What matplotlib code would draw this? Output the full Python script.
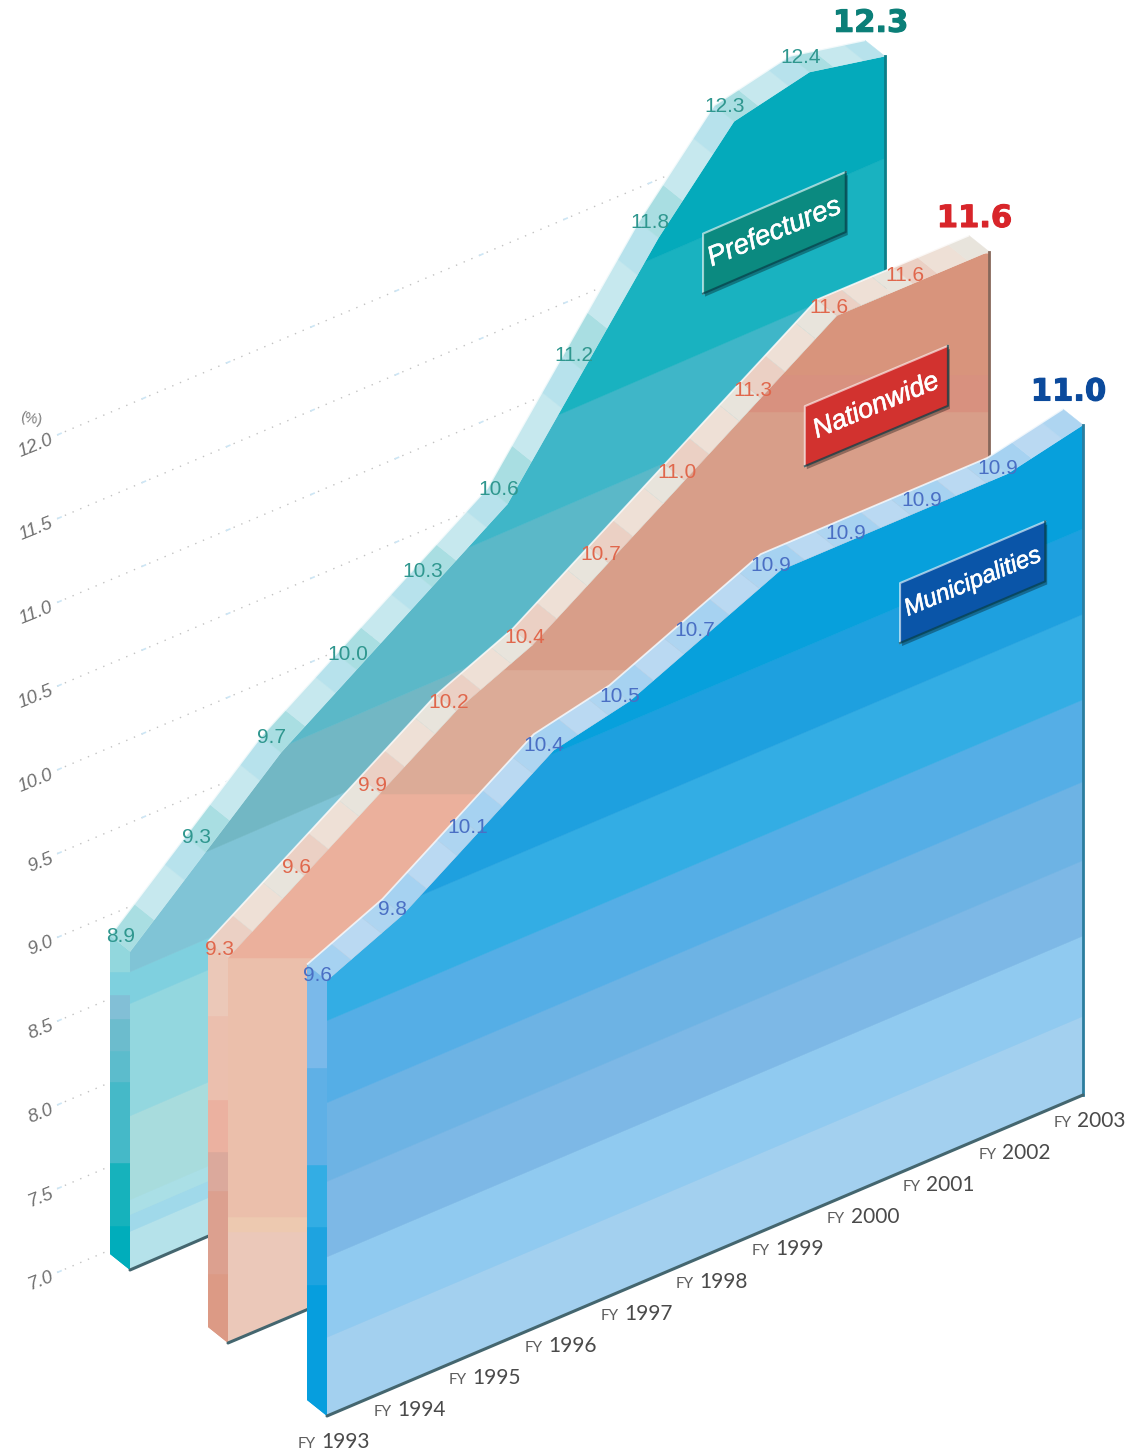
import numpy as np
import matplotlib
matplotlib.use("Agg")
import matplotlib.pyplot as plt
import matplotlib.patheffects as pe
from matplotlib.patches import Polygon, Rectangle
from matplotlib.transforms import Affine2D

years = list(range(1993, 2004))
prefectures = [8.9, 9.3, 9.7, 10.0, 10.3, 10.6, 11.2, 11.8, 12.3, 12.4, 12.3]
nationwide = [9.3, 9.6, 9.9, 10.2, 10.4, 10.7, 11.0, 11.3, 11.6, 11.6, 11.6]
municipalities = [9.6, 9.8, 10.1, 10.4, 10.5, 10.7, 10.9, 10.9, 10.9, 10.9, 11.0]
axis_ticks = [7.0, 7.5, 8.0, 8.5, 9.0, 9.5, 10.0, 10.5, 11.0, 11.5, 12.0]

BASE = 7.0
UNIT = 167.5          # pixels per percentage point
RISE = 32.1           # pixels the floor climbs per fiscal year
DEPTH = (-20, -16)    # offset from the front face to the back of the slab

fig = plt.figure(figsize=(11.41, 14.5), dpi=100, facecolor="white")
ax = fig.add_axes([0, 0, 1, 1])
ax.set_xlim(0, 1141)
ax.set_ylim(1450, 0)
ax.axis("off")


def projection(x0, y0, step, rise=RISE):
    """Map (year index, percent) onto the page of the oblique drawing."""
    return Affine2D.from_values(step, -rise, 0, -UNIT, x0, y0 + BASE * UNIT)


def slab(values, proj, flat, front_bands, side_bands, ridge_shades, edge, z, sloped=True):
    idx = np.arange(len(values))
    top = proj.transform(np.c_[idx, values])
    dx, dy = DEPTH
    back = top + (dx, dy)
    foot_l, foot_r = proj.transform([(0, BASE), (idx[-1], BASE)])

    # front face, shaded in stacked bands
    outline = np.vstack([foot_l, top, foot_r])
    face = Polygon(outline, closed=True, fc=front_bands[0][2], ec="none", zorder=z)
    ax.add_patch(face)
    band_tr = (proj if sloped else flat) + ax.transData
    for v0, v1, col in front_bands:
        r = Rectangle((-2, v0), 16, v1 - v0, fc=col, ec=col, lw=0.3,
                      transform=band_tr, zorder=z)
        ax.add_patch(r)
        r.set_clip_path(face)

    # left side face
    side_pts = [foot_l, top[0], back[0], foot_l + (dx, dy)]
    side = Polygon(side_pts, closed=True, fc=side_bands[0][2], ec="none", zorder=z)
    ax.add_patch(side)
    for v0, v1, col in side_bands:
        r = Rectangle((-2, v0), 4, v1 - v0, fc=col, ec=col, lw=0.3,
                      transform=flat + ax.transData, zorder=z)
        ax.add_patch(r)
        r.set_clip_path(side)

    # top ridge with its alternating facets
    cuts = [0.0, 0.32, 0.72, 1.0]
    for k in range(len(values) - 1):
        for j in range(3):
            a, b = cuts[j], cuts[j + 1]
            p0 = top[k] + (top[k + 1] - top[k]) * a
            p1 = top[k] + (top[k + 1] - top[k]) * b
            ax.add_patch(Polygon([p0, p1, p1 + (dx, dy), p0 + (dx, dy)], closed=True,
                                 fc=ridge_shades[j], ec=ridge_shades[j], lw=0.3, zorder=z + 1))
    ax.plot(back[:, 0], back[:, 1], color="white", lw=1.3, alpha=0.75, zorder=z + 1,
            solid_capstyle="butt")

    # shaded edges on the right and along the floor
    ax.plot([top[-1][0], foot_r[0]], [top[-1][1], foot_r[1]], color=edge, lw=2.0,
            zorder=z + 1, solid_capstyle="projecting")
    ax.plot([foot_l[0], foot_r[0]], [foot_l[1], foot_r[1]], color="#44666f", lw=2.2,
            zorder=z + 1, solid_capstyle="round")
    return top


def tag(proj, i0, i1, vtop, color, text, size, z):
    h = 0.358
    corners = proj.transform([(i0, vtop), (i1, vtop), (i1, vtop - h), (i0, vtop - h)])
    ax.add_patch(Polygon(corners + (2, 3), closed=True, fc="#00000055", ec="none", zorder=z))
    ax.add_patch(Polygon(corners, closed=True, fc=color, ec="none", zorder=z))
    ax.plot(corners[[3, 0, 1], 0], corners[[3, 0, 1], 1], color="white", alpha=0.6, lw=1.5, zorder=z)
    ax.plot(corners[[1, 2, 3], 0], corners[[1, 2, 3], 1], color="#063f48", alpha=0.7, lw=1.5, zorder=z)
    c = corners.mean(axis=0)
    ax.text(c[0], c[1], text, color="white", fontsize=size, style="italic",
            family="Liberation Sans", rotation=22.5, rotation_mode="anchor",
            ha="center", va="center", zorder=z + 1,
            path_effects=[pe.withStroke(linewidth=0.4, foreground="white")])


def value_labels(top, values, off, color, big_color, z):
    for k, v in enumerate(values[:-1]):
        ax.text(top[k][0] + off[0], top[k][1] + off[1], f"{v:.1f}", color=color,
                fontsize=15, family="Liberation Sans", ha="center", va="center", zorder=z)
    ax.text(top[-1][0] - 14.5, top[-1][1] - 33, f"{values[-1]:.1f}", color=big_color,
            fontsize=22, weight="bold", family="DejaVu Sans", ha="center", va="center", zorder=z,
            path_effects=[pe.withStroke(linewidth=0.8, foreground=big_color)])


# dotted scale lines behind the slabs, with slanted labels
grid = projection(110, 1250, 75.5)
for v in axis_ticks:
    xy = grid.transform([(-0.7, v), (7.6, v)])
    ax.plot(xy[:, 0], xy[:, 1], color="#c2c2c2", lw=1.0, ls=(0, (1, 5)), zorder=1)
    ax.plot(xy[:, 0], xy[:, 1], color="#cde6f5", lw=1.2, ls=(0, (3, 52)), zorder=1)
    px = grid.transform([(-0.76, v)])[0]
    ax.text(px[0], px[1] + 2, f"{v:.1f}", color="#707070", fontsize=13.5, style="italic",
            family="Liberation Sans", rotation=22, rotation_mode="anchor",
            ha="right", va="center", zorder=1)
ax.text(31, 419, "(%)", color="#777777", fontsize=10, family="Liberation Sans",
        rotation=-10, ha="center", va="center")

# Prefectures
p_proj = projection(130, 1270, 75.5, rise=32.6)
p_flat = projection(130, 1270, 75.5, rise=0)
p_front = [(7.0, 7.23, "#b5e2ea"), (7.23, 7.33, "#a0d9ea"), (7.33, 7.42, "#aadfe6"),
           (7.42, 7.92, "#a8dcdd"), (7.92, 8.59, "#93d7df"), (8.59, 8.78, "#7fd0df"),
           (8.78, 9.3, "#80c4d6"), (9.3, 9.73, "#72b7c4"), (9.73, 10.44, "#5bb8c8"),
           (10.44, 11.0, "#3fb6c8"), (11.0, 11.69, "#19b2c0"), (11.69, 13.0, "#04aabb")]
p_side = [(7.0, 7.26, "#00adbb"), (7.26, 7.64, "#16b2bc"), (7.64, 8.12, "#45b9c8"),
          (8.12, 8.31, "#5cbccc"), (8.31, 8.5, "#6cbccd"), (8.5, 8.64, "#82bfd6"),
          (8.64, 8.78, "#7ed0de"), (8.78, 9.5, "#92d7dd")]
p_top = slab(prefectures, p_proj, p_flat, p_front, p_side,
             ["#a9dee2", "#c6e8ee", "#b7e2ec"], "#0c7e88", z=10)
value_labels(p_top, prefectures, (-9, -15), "#2f978f", "#0b7f78", z=14)
tag(p_proj, 7.59, 9.48, 11.71, "#0b8a80", "Prefectures", 20, z=12)

# Nationwide
n_proj = projection(228, 1343, 76.1)
n_flat = projection(228, 1343, 76.1, rise=0)
n_front = [(7.0, 7.66, "#ebc8b9"), (7.66, 7.75, "#edc9b0"), (7.75, 9.3, "#ebbfab"),
           (9.3, 10.28, "#ebb09c"), (10.28, 11.02, "#dcab97"), (11.02, 12.56, "#d89e89"),
           (12.56, 12.78, "#d8917f"), (12.78, 13.5, "#d8947c")]
n_side = [(7.0, 7.41, "#dc9a85"), (7.41, 7.91, "#dca08f"), (7.91, 8.14, "#dba99c"),
          (8.14, 8.45, "#ebb1a0"), (8.45, 8.95, "#ebbfae"), (8.95, 9.6, "#ebc8b8")]
n_top = slab(nationwide, n_proj, n_flat, n_front, n_side,
             ["#ebd0c4", "#eee0d6", "#e8e4dc"], "#86675a", z=20, sloped=False)
value_labels(n_top, nationwide, (-8, -8), "#e0674c", "#d8252a", z=24)
tag(n_proj, 7.58, 9.46, 11.14, "#d2322f", "Nationwide", 19.5, z=22)

# Municipalities
m_proj = projection(327, 1416, 75.6)
m_flat = projection(327, 1416, 75.6, rise=0)
m_front = [(7.0, 7.47, "#a3d0ef"), (7.47, 7.95, "#90caf0"), (7.95, 8.4, "#7db8e6"),
           (8.4, 8.87, "#6db3e4"), (8.87, 9.36, "#55aee6"), (9.36, 9.87, "#33ade4"),
           (9.87, 10.38, "#1ea0df"), (10.38, 11.5, "#07a0dc")]
m_side = [(7.0, 7.78, "#069ede"), (7.78, 8.13, "#1ea3e0"), (8.13, 8.5, "#33ade4"),
          (8.5, 9.08, "#5fb0e6"), (9.08, 10.0, "#7ab9ea")]
m_top = slab(municipalities, m_proj, m_flat, m_front, m_side,
             ["#a6d2f1", "#bad9f2", "#aed5f1"], "#2c7d9e", z=30)
value_labels(m_top, municipalities, (-10, -5), "#4a6fc4", "#0b4a9c", z=34)
tag(m_proj, 7.58, 9.5, 10.52, "#0a55a8", "Municipalities", 17.5, z=32)

# fiscal-year labels along the front floor
for k, yr in enumerate(years):
    x, y = m_proj.transform([(k, BASE)])[0]
    ax.text(x + 43, y + 26, str(yr), color="#4a4a4a", fontsize=15, family="Lato",
            ha="right", va="center", zorder=40)
    ax.text(x + 43 - 54, y + 28, "FY", color="#5e5e5e", fontsize=11, family="Lato",
            ha="right", va="center", zorder=40)

fig.savefig("out.png", dpi=100, facecolor="white")
